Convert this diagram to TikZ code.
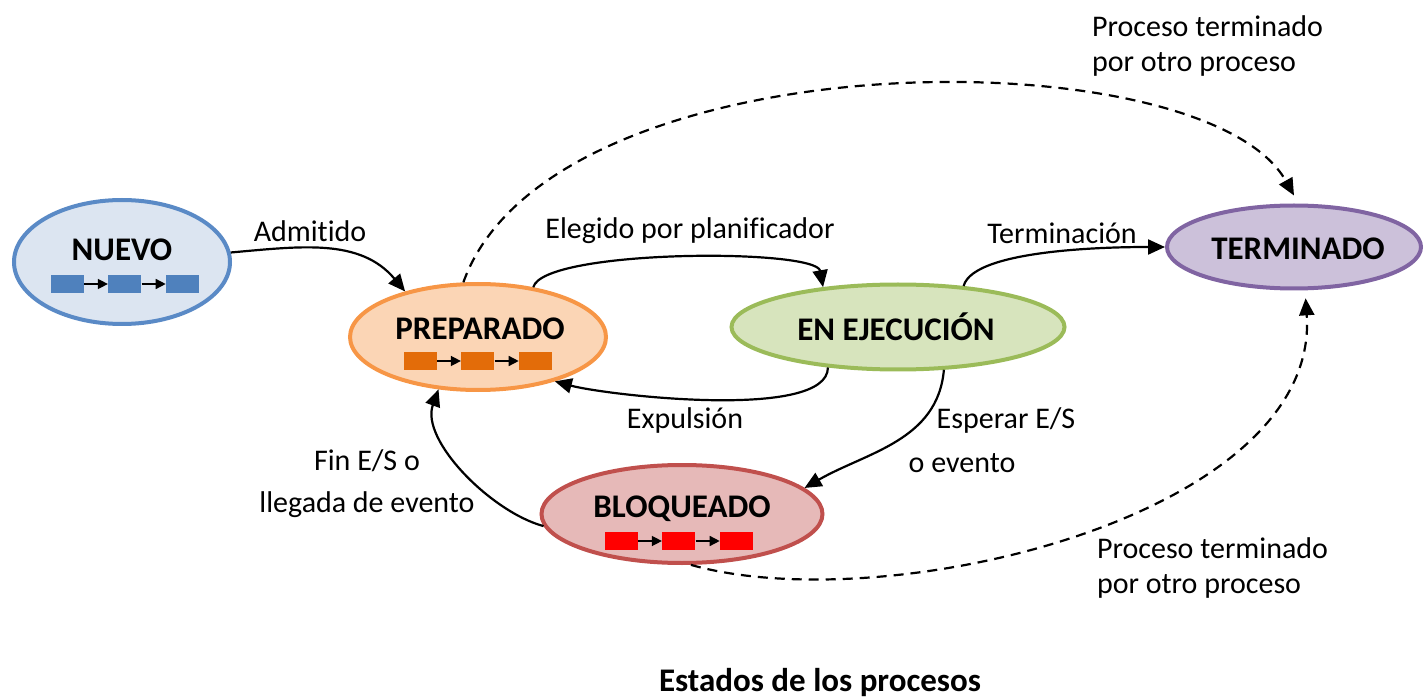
\documentclass[tikz,border=0pt]{standalone}
\usepackage{fontspec}
\setmainfont{Carlito}[Ligatures=NoCommon]
\usetikzlibrary{shapes.geometric,arrows.meta,positioning}

\definecolor{azulB}{HTML}{5A8AC6}
\definecolor{azulF}{HTML}{DCE5F1}
\definecolor{azulC}{HTML}{4F81BD}
\definecolor{naranjaB}{HTML}{F79646}
\definecolor{naranjaF}{HTML}{FBD5B5}
\definecolor{naranjaC}{HTML}{E36C09}
\definecolor{verdeB}{HTML}{9BBB59}
\definecolor{verdeF}{HTML}{D7E4BD}
\definecolor{rojoB}{HTML}{C0504D}
\definecolor{rojoF}{HTML}{E6B9B8}
\definecolor{rojoC}{HTML}{FF0000}
\definecolor{moradoB}{HTML}{8064A2}
\definecolor{moradoF}{HTML}{CCC1DA}

\tikzset{
  estado/.style={ellipse, line width=2pt, inner sep=0pt},
  titulo/.style={font=\fontsize{16.5}{19}\selectfont\bfseries},
  etiqueta/.style={font=\fontsize{15}{18}\selectfont},
  caja/.style={rectangle, minimum width=16.5pt, minimum height=9pt, inner sep=0pt},
  flechita/.style={-{Triangle[length=5pt,width=5pt]}, line width=0.7pt},
  trans/.style={-{Triangle[length=8.5pt,width=7.5pt]}, line width=1.1pt},
  discont/.style={trans, dash pattern=on 5pt off 3.5pt},
}

% cola de procesos: nombre, color, centro de la primera caja
\newcommand{\cola}[3]{%
  \node[caja, fill=#2] (#1a) at (#3) {};
  \node[caja, fill=#2, right=12pt of #1a] (#1b) {};
  \node[caja, fill=#2, right=12pt of #1b] (#1c) {};
  \draw[flechita] (#1a) -- (#1b);
  \draw[flechita] (#1b) -- (#1c);
}

\begin{document}
\begin{tikzpicture}[x=0.5pt,y=-0.5pt]
    \useasboundingbox (0,0) rectangle (1425,700);

    % estados
    \node[estado, draw=azulB, fill=azulF, minimum width=108pt, minimum height=62pt] (nuevo) at (122,262) {};
    \node[estado, draw=naranjaB, fill=naranjaF, minimum width=128pt, minimum height=53pt] (preparado) at (478,337) {};
    \node[estado, draw=verdeB, fill=verdeF, minimum width=166.5pt, minimum height=42.5pt] (ejecucion) at (898,327) {};
    \node[estado, draw=rojoB, fill=rojoF, minimum width=140.5pt, minimum height=49pt] (bloqueado) at (682,514) {};
    \node[estado, draw=moradoB, fill=moradoF, minimum width=127pt, minimum height=41.5pt] (terminado) at (1294,247) {};

    \node[titulo] (tnuevo) at (122,250) {NUEVO};
    \node[titulo] (tpreparado) at (480,329) {PREPARADO};
    \node[titulo] (tejecucion) at (896,327) {EN EJECUCIÓN};
    \node[titulo] (tbloqueado) at (682,509) {BLOQUEADO};
    \node[titulo] (tterminado) at (1298,249) {TERMINADO};

    \cola{qn}{azulC}{67,284}
    \cola{qp}{naranjaC}{420,361}
    \cola{qb}{rojoC}{621,541}

    % transiciones
    \draw[trans] (nuevo.5) to[out=5,in=130] (preparado.148);
    \draw[trans] (preparado.42) to[out=75,in=100,looseness=0.35] (ejecucion.152);
    \draw[trans] (ejecucion.210) to[out=270,in=345,looseness=0.5] (preparado.330);
    \draw[trans] (ejecucion.32) to[out=75,in=180,looseness=0.5] (terminado.west);
    \draw[trans] (ejecucion.-43) to[out=-95,in=30] (bloqueado.12);
    \draw[trans] (bloqueado.185) to[out=165,in=250,looseness=0.8] (preparado.233);
    \draw[discont] (preparado.105) .. controls +(88,-246) and +(-90,-161) .. ([yshift=4pt]terminado.north);
    \draw[discont] (bloqueado.-80) .. controls +(195,55) and +(15,218) .. ([yshift=-4pt]terminado.-75);

    % etiquetas
    \node[etiqueta] (ladmitido) at (310,231) {Admitido};
    \node[etiqueta] (lelegido) at (690,231) {Elegido por planificador};
    \node[etiqueta] (lterminacion) at (1062,233) {Terminación};
    \node[etiqueta] (lexpulsion) at (685,421) {Expulsión};
    \node[etiqueta] (lesperar) at (1006,421) {Esperar E/S};
    \node[etiqueta] (loevento) at (962,463) {o evento};
    \node[etiqueta, align=center] (lfin) at (367,484) {Fin E/S o\\[3pt]llegada de evento};
    \node[etiqueta, align=left, anchor=west] (lotro1) at (1085,46) {Proceso terminado\\[-0.5pt]por otro proceso};
    \node[etiqueta, align=left, anchor=west] (lotro2) at (1090,568) {Proceso terminado\\[-0.5pt]por otro proceso};

    \node[titulo] (ltitulo) at (820,683) {Estados de los procesos};
\end{tikzpicture}
\end{document}
